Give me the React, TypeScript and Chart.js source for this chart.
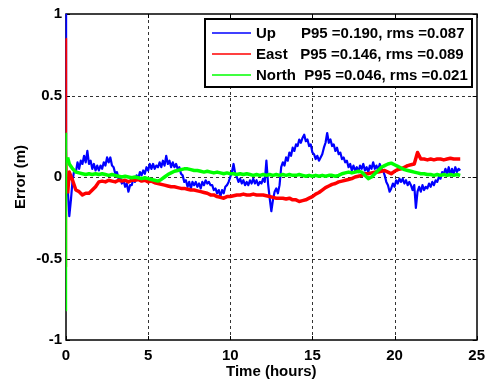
import { useEffect, useRef } from "react";
import { Chart, registerables } from "chart.js";
Chart.register(...registerables);

// ---- data ----
const upStartTimes = [0, 0.02, 0.05];
const upStartValues = [1.0, 0.66, -0.05];
const eastStartTimes = [0, 0.02, 0.05, 0.1];
const eastStartValues = [0.85, -0.55, 0.18, -0.1];
const northStartTimes = [0, 0.02, 0.05, 0.1];
const northStartValues = [0.27, -0.82, 0.1, 0.12];

const upStep = 0.1; // hours between Up samples (from t = 0.1)
const upValues = [
  -0.06, -0.24, -0.14, -0.02, 0.04, 0.03, 0.09, 0.05, 0.10, 0.08,
  0.13, 0.09, 0.16, 0.08, 0.10, 0.05, 0.08, 0.04, 0.07, 0.04,
  0.07, 0.05, 0.09, 0.07, 0.12, 0.09, 0.12, 0.07, 0.06, 0.02,
  0.03, -0.01, 0.00, -0.04, -0.02, -0.06, -0.04, -0.09, -0.05, -0.05,
  -0.01, -0.03, 0.01, -0.01, 0.03, 0.01, 0.04, 0.02, 0.06, 0.04,
  0.08, 0.05, 0.08, 0.05, 0.07, 0.06, 0.09, 0.06, 0.10, 0.07,
  0.13, 0.08, 0.10, 0.06, 0.09, 0.06, 0.08, 0.05, 0.06, 0.02,
  0.01, -0.03, -0.02, -0.06, -0.03, -0.07, -0.03, -0.05, -0.03, -0.06,
  -0.04, -0.07, -0.03, -0.05, -0.02, -0.04, -0.03, -0.05, -0.05, -0.08,
  -0.07, -0.10, -0.08, -0.12, -0.08, -0.10, -0.06, -0.05, -0.03, 0.00,
  0.03, 0.08, 0.02, 0.00, -0.03, -0.01, -0.04, -0.02, -0.05, -0.03,
  -0.05, -0.02, -0.04, -0.01, -0.04, -0.02, -0.05, -0.03, -0.04, -0.01,
  -0.03, 0.10, -0.04, -0.13, -0.21, -0.14, -0.09, -0.07, -0.10, -0.05,
  0.06, 0.09, 0.07, 0.12, 0.10, 0.15, 0.13, 0.18, 0.16, 0.20,
  0.19, 0.23, 0.21, 0.24, 0.26, 0.22, 0.23, 0.19, 0.20, 0.15,
  0.14, 0.11, 0.13, 0.10, 0.12, 0.14, 0.18, 0.21, 0.27, 0.21,
  0.23, 0.19, 0.20, 0.16, 0.18, 0.14, 0.15, 0.11, 0.12, 0.09,
  0.10, 0.06, 0.08, 0.04, 0.07, 0.04, 0.06, 0.03, 0.07, 0.05,
  0.08, 0.04, 0.06, 0.03, 0.07, 0.05, 0.09, 0.05, 0.07, 0.04,
  0.08, 0.05, 0.04, 0.01, -0.03, -0.05, -0.09, -0.07, -0.04, -0.06,
  -0.02, -0.04, -0.01, -0.03, -0.01, -0.04, -0.02, -0.05, -0.03, -0.05,
  -0.08, -0.05, -0.19, -0.09, -0.06, -0.09, -0.05, -0.08, -0.06, -0.07,
  -0.04, -0.06, -0.03, -0.05, -0.02, -0.03, 0.00, -0.01, 0.03, 0.02,
  0.05, 0.02, 0.06, 0.01, 0.05, 0.02, 0.06, 0.03, 0.05, 0.04,
];

const enStep = 0.2; // hours between East / North samples (from t = 0.2)
const eastValues = [
  0.03, -0.02, -0.08, -0.09, -0.11, -0.10, -0.10, -0.08, -0.06, -0.03,
  -0.025, -0.03, -0.02, -0.025, -0.03, -0.02, -0.025, -0.02, -0.03, -0.02,
  -0.02, -0.015, -0.025, -0.02, -0.03, -0.025, -0.035, -0.04, -0.045, -0.05,
  -0.055, -0.06, -0.06, -0.065, -0.07, -0.07, -0.075, -0.08, -0.08, -0.085,
  -0.09, -0.095, -0.10, -0.11, -0.11, -0.12, -0.125, -0.13, -0.12, -0.12,
  -0.115, -0.11, -0.11, -0.105, -0.11, -0.11, -0.105, -0.11, -0.11, -0.11,
  -0.115, -0.12, -0.125, -0.13, -0.13, -0.13, -0.135, -0.13, -0.14, -0.14,
  -0.15, -0.145, -0.14, -0.13, -0.12, -0.105, -0.095, -0.08, -0.065, -0.055,
  -0.045, -0.04, -0.03, -0.025, -0.02, -0.015, -0.01, 0.0, 0.005, 0.01,
  0.02, 0.02, 0.025, 0.03, 0.03, 0.035, 0.04, 0.03, 0.02, 0.035,
  0.045, 0.05, 0.06, 0.07, 0.075, 0.08, 0.15, 0.11, 0.11, 0.105,
  0.11, 0.105, 0.11, 0.11, 0.105, 0.11, 0.115, 0.11, 0.11, 0.11,
];
const northValues = [
  0.08, 0.05, 0.03, 0.025, 0.02, 0.015, 0.02, 0.015, 0.02, 0.015,
  0.02, 0.015, 0.01, 0.015, 0.01, 0.005, 0.0, 0.005, 0.0, -0.005,
  0.0, -0.005, -0.01, -0.005, -0.01, -0.015, -0.02, -0.025, -0.015, 0.0,
  0.015, 0.025, 0.035, 0.04, 0.045, 0.05, 0.05, 0.045, 0.04, 0.04,
  0.035, 0.03, 0.035, 0.03, 0.025, 0.03, 0.025, 0.02, 0.025, 0.02,
  0.02, 0.015, 0.02, 0.015, 0.02, 0.015, 0.01, 0.015, 0.01, 0.015,
  0.01, 0.015, 0.01, 0.015, 0.01, 0.015, 0.01, 0.015, 0.01, 0.01,
  0.015, 0.01, 0.005, 0.01, 0.005, 0.01, 0.005, 0.01, 0.005, 0.01,
  0.01, 0.005, 0.01, 0.02, 0.025, 0.03, 0.025, 0.03, 0.035, 0.03,
  0.01, -0.01, 0.0, 0.02, 0.04, 0.06, 0.07, 0.08, 0.085, 0.075,
  0.065, 0.055, 0.045, 0.04, 0.035, 0.03, 0.025, 0.02, 0.02, 0.015,
  0.015, 0.01, 0.015, 0.01, 0.015, 0.01, 0.015, 0.01, 0.015, 0.01,
];

const seriesNames = ["Up", "East", "North"];
const legendLabels = [
  "Up      P95 =0.190, rms =0.087",
  "East   P95 =0.146, rms =0.089",
  "North  P95 =0.046, rms =0.021",
];
const seriesColors = ["#0000ff", "#ff0000", "#00ff00"];

const xMin = 0, xMax = 25, xStep = 5;
const yMin = -1, yMax = 1, yStep = 0.5;
const xTitle = "Time (hours)";
const yTitle = "Error (m)";

const FONT = "'Liberation Sans', Arial, Helvetica, sans-serif";

function build(startT: number[], startV: number[], vals: number[], step: number) {
  const pts = startT.map((t, i) => ({ x: t, y: startV[i] }));
  vals.forEach((v, i) => pts.push({ x: +((i + 1) * step).toFixed(2), y: v }));
  return pts;
}

const framePlugin = {
  id: "matlabFrame",
  beforeDatasetsDraw(chart: any) {
    const { ctx, chartArea: a, scales } = chart;
    const xs = scales.x, ys = scales.y;
    ctx.save();
    ctx.lineWidth = 1;
    ctx.strokeStyle = "rgba(0,0,0,0.8)";
    ctx.setLineDash([3, 3]);
    xs.ticks.forEach((t: any) => {
      if (t.value <= xMin || t.value >= xMax) return;
      const px = Math.round(xs.getPixelForValue(t.value)) + 0.5;
      ctx.beginPath(); ctx.moveTo(px, a.top); ctx.lineTo(px, a.bottom); ctx.stroke();
    });
    ys.ticks.forEach((t: any) => {
      if (t.value <= yMin || t.value >= yMax) return;
      const py = Math.round(ys.getPixelForValue(t.value)) + 0.5;
      ctx.beginPath(); ctx.moveTo(a.left, py); ctx.lineTo(a.right, py); ctx.stroke();
    });
    ctx.setLineDash([]);
    ctx.strokeStyle = "#000";
    const tl = 4;
    xs.ticks.forEach((t: any) => {
      const px = Math.round(xs.getPixelForValue(t.value)) + 0.5;
      ctx.beginPath();
      ctx.moveTo(px, a.bottom); ctx.lineTo(px, a.bottom - tl);
      ctx.moveTo(px, a.top); ctx.lineTo(px, a.top + tl);
      ctx.stroke();
    });
    ys.ticks.forEach((t: any) => {
      const py = Math.round(ys.getPixelForValue(t.value)) + 0.5;
      ctx.beginPath();
      ctx.moveTo(a.left, py); ctx.lineTo(a.left + tl, py);
      ctx.moveTo(a.right, py); ctx.lineTo(a.right - tl, py);
      ctx.stroke();
    });
    ctx.lineWidth = 1.5;
    ctx.strokeRect(Math.round(a.left), Math.round(a.top), Math.round(a.right - a.left), Math.round(a.bottom - a.top));
    ctx.restore();
  },
  afterDatasetsDraw(chart: any) {
    const { ctx, chartArea: a } = chart;
    ctx.save();
    const boxW = 267, boxH = 68;
    const bx = Math.round(a.right - 5 - boxW);
    const by = Math.round(a.top + 5);
    ctx.fillStyle = "#fff";
    ctx.fillRect(bx, by, boxW, boxH);
    ctx.lineWidth = 2;
    ctx.strokeStyle = "#000";
    ctx.strokeRect(bx, by, boxW, boxH);
    ctx.font = `bold 15px ${FONT}`;
    ctx.textBaseline = "middle";
    ctx.textAlign = "left";
    legendLabels.forEach((lab, i) => {
      const yy = by + 14 + i * 21;
      ctx.beginPath();
      ctx.strokeStyle = seriesColors[i];
      ctx.lineWidth = 1.5;
      ctx.moveTo(bx + 7, yy);
      ctx.lineTo(bx + 46, yy);
      ctx.stroke();
      ctx.fillStyle = "#000";
      ctx.fillText(lab, bx + 51, yy + 1);
    });
    ctx.restore();
  },
};

export default function App() {
  const ref = useRef<HTMLCanvasElement>(null);
  useEffect(() => {
    document.body.style.margin = "0";
    const canvas = ref.current!;
    const upData = build(upStartTimes, upStartValues, upValues, upStep);
    const eastData = build(eastStartTimes, eastStartValues, eastValues, enStep);
    const northData = build(northStartTimes, northStartValues, northValues, enStep);
    const font = { family: FONT, size: 15, weight: "bold" as const };
    const mk = (i: number, data: any[], startLen: number, w: number, order: number) => ({
      label: seriesNames[i],
      data,
      borderColor: seriesColors[i],
      borderWidth: w,
      order,
      pointRadius: 0,
      tension: 0,
      fill: false,
      clip: false as any,
      borderJoinStyle: "round" as const,
      segment: {
        borderWidth: (c: any) => (c.p0DataIndex < startLen - 1 ? 1.2 : w),
      },
    });
    const chart = new Chart(canvas, {
      type: "line",
      data: {
        datasets: [
          mk(0, upData, upStartTimes.length, 2.2, 3),
          mk(1, eastData, eastStartTimes.length, 3.5, 2),
          mk(2, northData, northStartTimes.length, 3.5, 1),
        ],
      },
      options: {
        animation: false,
        responsive: false,
        devicePixelRatio: 1,
        layout: { padding: { top: 14, right: 12, left: 0, bottom: 0 } },
        plugins: { legend: { display: false }, tooltip: { enabled: false } },
        events: [],
        scales: {
          x: {
            type: "linear",
            min: xMin, max: xMax,
            ticks: { stepSize: xStep, color: "#000", font, padding: 7, maxRotation: 0 },
            grid: { display: false, drawTicks: false },
            border: { display: false },
            title: { display: true, text: xTitle, color: "#000", font, padding: { top: 0, bottom: 0 } },
            afterFit: (s: any) => { s.height = 41; },
          },
          y: {
            type: "linear",
            min: yMin, max: yMax,
            ticks: { stepSize: yStep, color: "#000", font, padding: 4, callback: (v: any) => String(Number(v)) },
            grid: { display: false, drawTicks: false },
            border: { display: false },
            title: { display: true, text: yTitle, color: "#000", font, padding: { top: 12, bottom: 0 } },
            afterFit: (s: any) => { s.width = 66; },
          },
        },
      },
      plugins: [framePlugin],
    });
    return () => chart.destroy();
  }, []);
  return <canvas ref={ref} width={492} height={381} style={{ display: "block" }} />;
}
